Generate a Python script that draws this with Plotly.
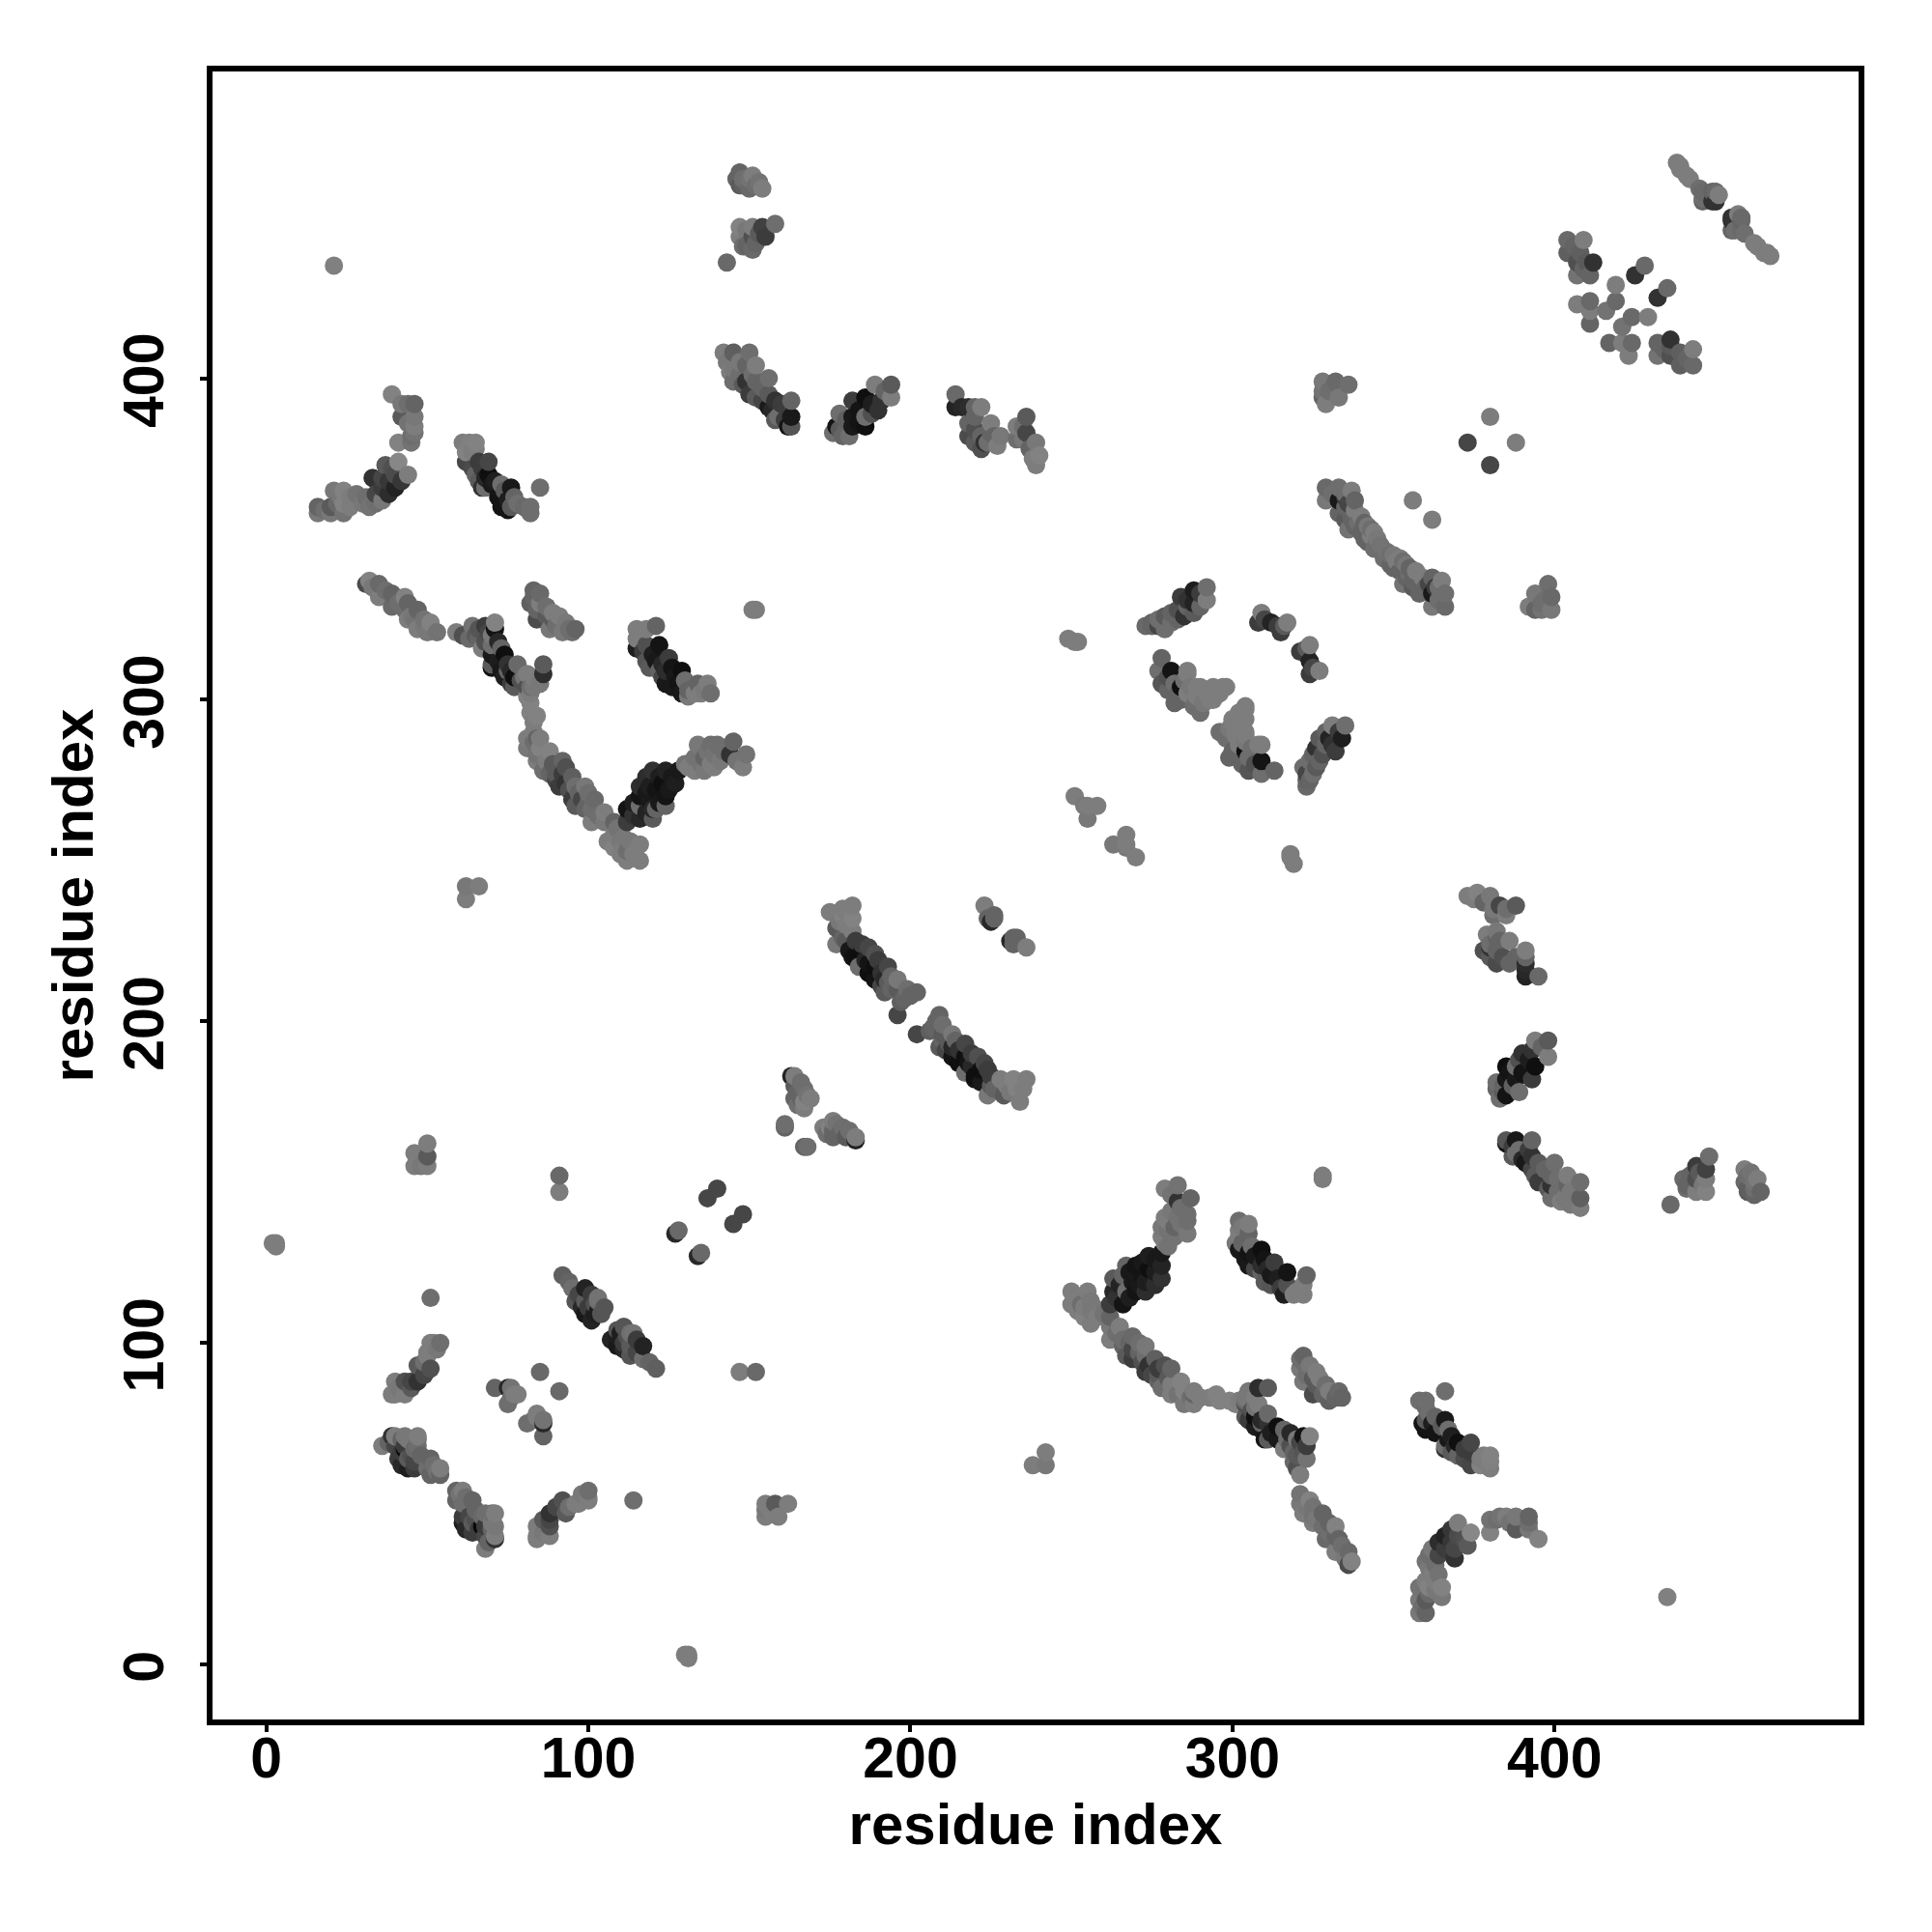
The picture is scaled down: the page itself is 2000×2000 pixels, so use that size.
import plotly.graph_objects as go

# Contact map: (residue i, residue j, grey level). The map is symmetric, so each contact is listed once.
long_range_a = [(21,435,128),(39,395,130),(42,392,120),(46,392,100),(46,388,120),(42,388,90),(46,385,125),(45,382,110),
 (41,380,130),(45,380,115),(41,374,135),(37,373,90),(33,369,50),(36,369,70),(40,370,75),(44,370,125),(36,366,60),(40,366,35),
 (36,362,120),(31,363,110),(28,364,115),(24,365,130),(21,365,120),(28,362,125),(24,361,130),(20,360,90),(16,360,100),
 (16,358,120),(20,358,120),(24,358,115),(32,360,115),(30,361,120),(34,364,70),(38,368,55),(38,364,45),(34,361,110),(26,363,125),
 (18,359,110),(22,361,105),(42,368,55),(39,372,80),(44,392,110),(44,386,115),(46,383,115),(23,363,120),(26,360,125)]
long_range_b = [(61,380,125),(63,380,128),(65,380,130),(62,377,130),(62,374,70),(66,374,60),(69,374,70),(65,370,100),(68,366,110),
 (69,370,15),(68,369,40),(73,367,110),(76,366,25),(72,363,20),(77,363,100),(75,359,20),(76,360,90),(82,360,110),(82,358,110),
 (80,360,105),(85,366,110),(64,372,75),(67,372,60),(66,368,90),(70,367,25),(71,368,30),(74,365,90),(75,362,30),(73,360,20),(78,361,110),
 (64,377,125),(65,378,125),(67,366,50)]
strand_c = [(31,336,75),(32,337,130),(35,336,105),(35,332,125),(39,333,100),(43,332,130),(39,329,105),(47,328,100),(43,328,110),
 (44,325,125),(47,322,125),(46,325,115),(51,324,130),(50,321,120),(53,321,115),(37,334,110),(41,330,110),(45,326,120),(49,323,120),
 (33,335,120),(40,332,100),(49,325,115),(44,330,100)]
strand_d = [(59,321,125),(64,323,115),(63,319,105),(61,320,80),(65,320,90),(68,323,60),(71,322,20),(71,324,130),(70,320,120),
 (70,317,110),(67,316,125),(70,314,25),(74,314,15),(70,310,20),(70,311,90),(75,311,50),(78,311,105),(74,307,30),(77,307,15),
 (75,309,100),(81,308,125),(77,304,90),(81,304,80),(85,305,120),(86,308,45),(86,311,90),(83,307,125),(82,304,110),
 (66,319,100),(68,318,80),(72,318,40),(72,312,30),(73,309,25),(76,309,40),(79,306,80),(80,307,115),(76,305,60),(83,304,120),
 (66,322,85),(69,321,70),(73,316,100)]
strand_e = [(82,299,130),(82,296,130),(83,293,125),(81,288,125),(84,288,100),(81,285,120),(85,285,130),(88,284,130),(84,281,125),
 (88,277,100),(92,281,100),(89,280,90),(92,277,60),(91,273,60),(95,276,95),(96,273,110),(99,273,120),(95,269,60),(98,269,70),
 (102,269,105),(99,266,100),(101,266,110),(105,265,125),(101,262,125),(108,262,100),(108,258,125),(108,254,130),(111,257,120),
 (116,255,125),(111,254,125),(112,250,125),(116,250,125),(112,253,110),(83,290,125),(82,302,125),(81,301,130),(84,295,130),(85,288,125),
 (83,287,110),(84,283,115),(87,281,125),(86,278,110),(90,277,90),(93,279,80),(90,275,70),(93,274,50),(94,272,80),(97,271,100),
 (100,271,110),(96,267,90),(100,268,100),(103,264,110),(105,262,120),(109,260,115),(110,252,125),(114,252,125),(113,256,120),
 (106,256,125),(110,256,120)]
strand_f = [(112,266,20),(116,263,40),(112,262,60),(120,263,90),(116,273,45),(116,270,20),(116,267,110),(120,278,50),(119,273,30),
 (119,269,25),(120,266,40),(124,270,20),(124,267,100),(123,274,15),(124,278,35),(128,278,25),(127,274,30),(133,278,125),(136,278,120),
 (139,279,125),(133,282,115),(136,282,100),(139,283,115),(134,286,120),(138,286,110),(140,286,110),(145,287,100),(144,283,50),
 (148,279,125),(149,283,115),(114,268,30),(118,265,35),(114,264,50),(118,271,25),(121,272,20),(122,276,30),(122,268,25),(126,276,25),
 (125,272,25),(118,276,45),(121,266,100),(130,280,115),(135,280,115),(137,284,115),(131,279,125),(142,284,110),(146,281,115),(141,281,120),(138,280,125)]
strand_g = [(83,334,100),(82,330,95),(85,333,105),(85,330,125),(89,327,125),(84,325,75),(88,322,120),(93,324,120),(96,322,100),
 (92,321,120),(89,325,90),(95,321,110),(83,332,100),(84,328,100),(87,329,110),(87,326,90),(90,323,110),(91,326,125),(94,322,110)]
strand_h = [(115,322,125),(118,322,125),(121,323,100),(115,319,125),(115,316,30),(118,317,80),(122,317,20),(118,312,85),(121,312,25),
 (125,313,60),(129,309,15),(124,309,45),(122,309,100),(124,305,25),(128,305,20),(129,302,25),(134,305,100),(137,305,125),(133,302,125),
 (135,302,125),(138,302,110),(117,315,60),(120,314,30),(119,310,90),(123,311,40),(126,310,20),(127,307,25),(123,307,70),(126,304,25),
 (131,303,100),(136,303,120),(130,306,110),(116,320,125),(131,301,120)]
isolated_i = [(62,242,120),(66,242,125),(62,238,125),(152,328,125),(151,328,125),(251,318,125),(249,319,125),(252,318,125),(2,131,125),(3,131,125),
 (3,130,125),(91,152,105),(91,147,125),(51,114,110),(356,362,125),(373,380,70),(380,388,125)]
top_j = [(147,464,100),(150,462,115),(151,463,125),(147,460,90),(150,459,105),(154,459,125),(148,460,95),(152,460,110),(143,436,105),
 (147,447,130),(147,444,125),(148,441,110),(151,440,105),(151,447,125),(154,447,65),(155,444,60),(151,444,80),(158,448,110),(150,442,100),
 (153,445,90),(149,446,120),(149,441,100),(152,442,100),(146,462,100),(153,461,115),(148,462,110)]
band_k = [(163,385,85),(162,385,20),(163,388,25),(163,393,100),(160,389,110),(159,388,110),(160,392,60),(156,391,25),(156,395,90),
 (156,400,110),(152,394,90),(152,399,100),(152,404,125),(149,399,50),(149,404,100),(150,408,110),(145,399,110),(145,403,120),(145,408,95),(142,408,125),
 (161,387,60),(158,387,90),(157,390,40),(154,393,70),(154,397,100),(150,395,60),(151,401,110),(147,401,110),(147,405,120),(143,405,120),
 (158,393,50),(148,398,90),(144,402,125)]
band_l = [(194,394,125),(194,398,90),(189,398,125),(190,390,50),(186,394,15),(182,393,60),(186,388,110),(186,385,15),(182,388,25),
 (182,385,25),(181,382,110),(178,384,90),(178,389,110),(177,385,20),(192,396,100),(188,392,30),(184,390,20),(184,386,20),(180,384,100),
 (180,387,95),(176,383,110),(179,382,100),(188,389,80),(191,393,50)]
band_m = [(239,373,125),(240,376,130),(239,380,120),(237,378,100),(236,383,70),(236,388,90),(233,385,125),(233,381,110),(227,379,125),
 (226,382,100),(225,386,125),(222,378,80),(223,380,50),(222,382,100),(222,391,125),(218,382,75),(218,386,100),(218,391,45),(214,391,35),(214,395,105),
 (238,375,125),(235,381,120),(235,385,110),(224,380,110),(220,380,90),(220,384,80),(220,388,100),(216,391,40),(228,382,120),(225,383,100),(220,391,100)]
near_n = [(163,183,35),(164,183,125),(164,180,90),(167,179,110),(164,176,100),(166,176,100),(167,175,130),(167,173,125),(161,167,100),(161,168,110),
 (165,178,100),(166,181,110),(168,177,115),(169,176,125),(165,174,110)]
anti_o = [(175,234,125),(179,235,125),(182,236,125),(179,233,130),(182,232,130),(177,229,90),(182,228,125),(177,224,120),(181,222,25),
 (185,224,60),(185,222,15),(189,221,80),(184,217,110),(189,217,15),(193,217,70),(189,213,20),(192,213,40),(192,209,90),(196,213,120),
 (196,210,90),(202,209,100),(198,207,100),(196,202,70),(178,231,120),(180,230,125),(179,226,100),(180,225,90),(183,225,60),(182,220,20),
 (187,223,70),(186,219,40),(187,215,15),(190,219,60),(191,215,50),(194,214,100),(193,212,90),(194,210,100),(199,210,110),(200,208,100),
 (197,206,95),(183,220,15),(187,218,20),(191,211,70)]
near_p = [(223,236,125),(226,232,100),(224,232,100),(225,231,40),(226,233,100),
 (251,270,125),(254,267,120),(258,267,125),(255,263,120),(255,267,125)]
anti_q = [(329,366,105),(333,366,110),(337,365,125),(329,362,120),(333,362,25),(338,362,100),(333,358,100),(338,359,125),(340,357,125),
 (336,353,115),(340,352,100),(344,352,125),(342,349,100),(343,351,125),(346,348,115),(344,347,110),(331,364,110),(335,364,110),(335,360,100),
 (336,361,70),(335,356,90),(337,356,100),(339,355,110),(342,354,120),(338,354,100),(341,350,100),(345,350,120),(341,355,100),(343,353,110),
 (345,349,110),(335,363,60)]
far_r = [(336,398,110),(333,394,120),(332,399,105),(329,392,125),(328,394,100),(328,399,120),(328,396,115),(330,396,110),(331,397,110)]
far_s = [(273,323,105),(277,325,110),(277,323,70),(281,327,100),(281,324,110),(285,326,50),(284,332,60),(288,334,30),(288,330,35),
 (288,327,90),(286,329,100),(292,335,110),(292,331,125),(275,323,100),(279,326,90),(283,328,80),(283,325,100),(286,331,50),(290,333,60),
 (290,329,100),(279,322,110),(275,324,100)]
near_t = [(309,327,125),(308,324,60),(312,324,35),(315,321,60),(317,324,125),(310,325,70),(314,323,60),(316,323,90)]
near_u = [(278,313,100),(281,309,20),(277,309,110),(286,309,125),(278,305,85),(282,305,110),(284,304,15),(289,304,125),(297,304,125),(294,304,125),
 (282,299,100),(286,302,125),(289,301,125),(293,300,125),(290,296,110),(298,304,125),(294,300,125),(290,304,125),(286,308,125),
 (280,307,80),(285,306,110),(292,302,125),(288,298,110),(296,302,125),(280,303,100),(284,300,100),(291,299,120),(283,302,100),(287,304,120)]
cluster_v = [(404,443,105),(409,443,125),(404,439,95),(408,439,95),(412,436,50),(407,436,80),(407,432,115),(411,432,100),(419,429,125),
 (419,424,105),(416,421,115),(411,424,105),(407,423,125),(411,421,125),(411,417,100),(428,435,105),(425,432,50),(406,441,100),(410,436,90),(409,434,100)]
cluster_w = [(439,466,125),(439,465,125),(442,462,125),(446,458,105),(446,455,100),(450,458,105),(450,455,50),(451,457,125),
 (449,458,100),(445,459,110),(449,455,50),(446,456,110),(441,463,125),(438,467,125)]
low_x = [(46,159,125),(50,162,125),(50,158,90),(46,155,125),(50,155,125),(47,157,125),(48,155,120),(140,148,70),(137,145,70),(127,134,40),(128,135,105)]
low_y = [(92,121,95),(95,117,110),(99,117,35),(96,113,85),(99,113,90),(103,113,110),(99,109,25),(104,109,85),(102,109,30),(103,110,30),
 (103,114,115),(102,112,80),(100,111,60),(97,115,70),(101,115,60),(98,111,40),(101,107,35),(105,111,85),(94,119,100)]
low_z = [(54,100,110),(51,100,125),(50,96,125),(47,93,90),(51,92,80),(43,88,80),(47,88,50),(40,88,125),(39,84,125),(43,84,125),(50,97,125),(40,84,125),
 (41,86,120),(45,86,90),(49,90,70),(49,94,110),(53,98,120),(45,88,70),(52,100,125)]
low_aa = [(36,68,125),(40,71,125),(44,70,120),(47,70,110),(46,67,105),(40,68,70),(43,67,10),(41,64,60),(44,64,90),(44,61,30),(46,63,70),
 (51,64,100),(54,61,125),(51,59,100),(54,59,100),(39,71,50),(43,71,120),(43,68,60),(47,68,110),(47,71,125),
 (38,69,100),(42,66,60),(45,65,80),(42,62,40),(48,65,100),(50,61,110),(53,60,115),(52,62,110),(46,61,60),(42,70,100)]
low_ab = [(71,86,100),(75,86,40),(76,86,115),(78,84,125),(75,81,110),(77,84,125),(76,83,110),(85,91,105)]

contact_groups = [long_range_a, long_range_b, strand_c, strand_d, strand_e, strand_f, strand_g, strand_h, isolated_i, top_j, band_k, band_l,
    band_m, near_n, anti_o, near_p, anti_q, far_r, far_s, near_t, near_u, cluster_v, cluster_w, low_x, low_y, low_z, low_aa, low_ab]

tick_values = [0, 100, 200, 300, 400]
axis_label = "residue index"

contacts = []
for group in contact_groups:
    for i, j, grey in group:
        contacts.append((i, j, grey))
        contacts.append((j, i, grey))
contacts.sort(key=lambda c: (c[0], c[1]))

xs = [c[0] for c in contacts]
ys = [c[1] for c in contacts]
colors = [f"rgb({c[2]},{c[2]},{c[2]})" for c in contacts]

FONT = "Liberation Sans"
fig = go.Figure(go.Scatter(x=xs, y=ys, mode="markers", cliponaxis=False,
    marker=dict(size=19, color=colors, line=dict(width=0)), hoverinfo="skip"))

axis_common = dict(
    tickmode="array", tickvals=tick_values, ticktext=[str(t) for t in tick_values],
    showgrid=False, zeroline=False, showline=True, mirror=True, linecolor="black", linewidth=6,
    ticks="outside", ticklen=7, tickwidth=3.5, tickcolor="black",
    tickfont=dict(family=FONT, size=59, color="black", weight=700),
    automargin=False,
)
fig.update_xaxes(range=[-16.7, 494.4], ticklabelstandoff=-24,
    title=dict(text=axis_label, font=dict(family=FONT, size=60, color="black", weight=700), standoff=17), **axis_common)
fig.update_yaxes(range=[-17.1, 495.4], tickangle=-90, ticklabelstandoff=14, ticklabelshift=11,
    title=dict(text=axis_label, font=dict(family=FONT, size=60, color="black", weight=700), standoff=2), **axis_common)
fig.update_layout(width=2000, height=2000, autosize=False, showlegend=False,
    paper_bgcolor="white", plot_bgcolor="white",
    margin=dict(l=212, r=84, t=66, b=228, pad=0),
    font=dict(family=FONT))
fig.write_html("out.html")
